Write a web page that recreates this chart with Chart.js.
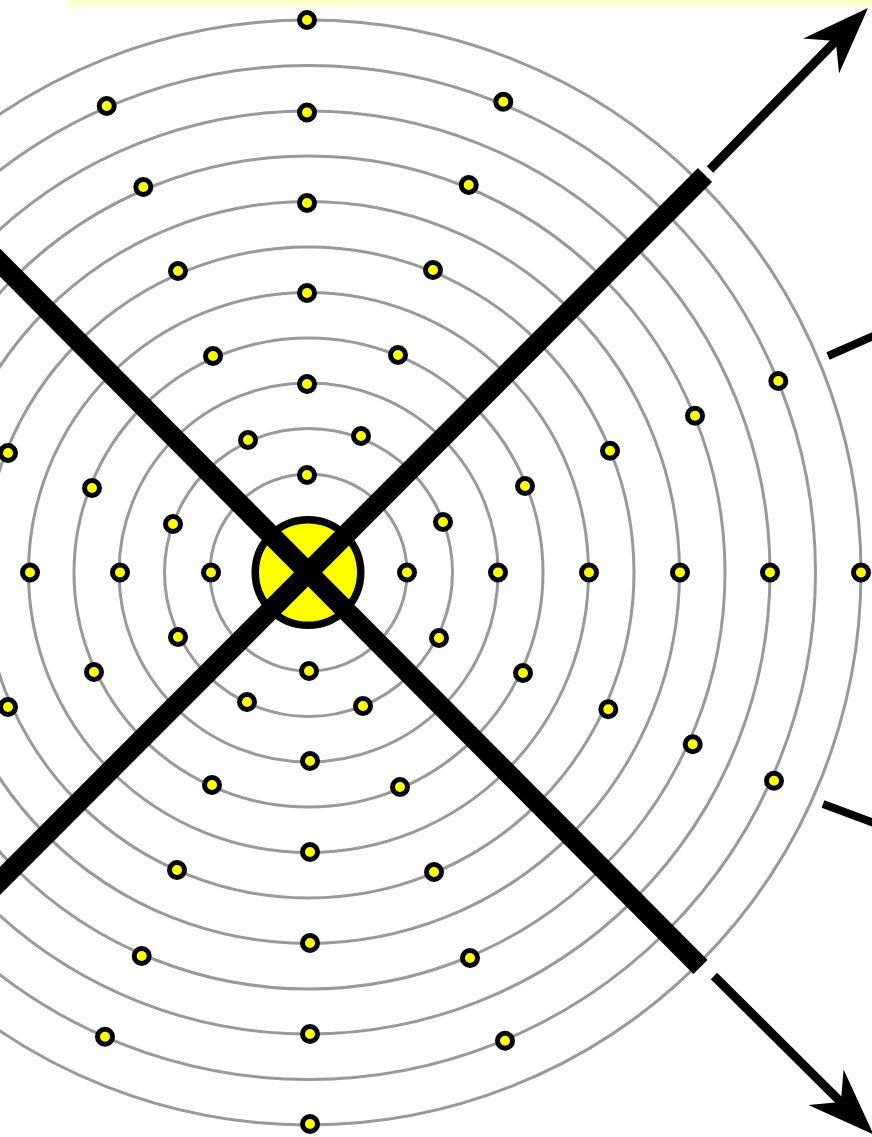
<!DOCTYPE html>
<html>
<head>
<meta charset="utf-8">
<script src="https://cdn.jsdelivr.net/npm/chart.js@4/dist/chart.umd.min.js"></script>
<style>
html,body{margin:0;padding:0;background:#ffffff;overflow:hidden}
canvas{display:block}
</style>
</head>
<body>
<canvas id="c" width="872" height="1137"></canvas>
<script>
// ---- data: offsets from the figure centre (x to the right, y upward) ----
const ringRadii = [98.5, 144, 189.5, 234.5, 280, 325.5, 371, 416.5, 461.5, 507, 552.5];

const dotX = [
  -1.5, -1.5, -1.5, -1.5, -1.5, -1.5,
  0.5, 1.5, 1.5, 1.5, 1.5, 1.5,
  98.5, 189.5, 280.5, 371.5, 461.5, 552.5,
  -97.5, -188.5, -278.5,
  -201.8, -165.2, -130.5, -95.5, -60.5,
  194.8, 160.2, 124.5, 89.5, 52.5,
  134.5, 216.5, 301.5, 386.5, 469.8,
  130.5, 214.5, 299.8, 384.2, 465.5,
  -300.5, -216.5, -135.5,
  -130.5, -214.5, -300.5,
  -61.5, -96.5, -131.5, -166.8, -203.5,
  54.5, 91.5, 125.5, 161.5, 196.5
];
const dotY = [
  552.5, 460, 369.5, 279.5, 188.5, 97.5,
  -98.5, -188.5, -279.5, -370.5, -461.5, -551.5,
  0, 0, 0, 0, 0, 0,
  0, 0, 0,
  466.5, 385.5, 301.5, 216.5, 132.5,
  470.8, 387.5, 302.5, 217.5, 136.5,
  50.5, 86.5, 121.8, 156.8, 191.5,
  -65.5, -100.5, -136.8, -171.8, -208.2,
  119.5, 84.5, 48.5,
  -64.5, -99.5, -134.5,
  -129.5, -212.5, -297.5, -383.5, -464.2,
  -133.5, -214.5, -299.5, -385.5, -468.2
];

const hubX = [-0.5];
const hubY = [0];

const beamStartX = [-420, -420];
const beamStartY = [422, -420];
const beamEndX = [392, 396.5];
const beamEndY = [-394.5, 397.5];

const arrowStartX = [401.5, 405.5];
const arrowStartY = [403, -403.5];
const arrowTipX = [559.5, 565];
const arrowTipY = [564.5, -562];

const dashStartX = [519.5, 514.5];
const dashStartY = [216.5, -231.5];
const dashEndX = [580, 580];
const dashEndY = [243, -256];

const bandX = [-240.5, 563.5];
const bandY = [566, 572.5];

// view window (data units)
const viewX = [-308.5, 563.5];
const viewY = [-564.5, 572.5];

// ---- styles ----
const HEAD_LEN = 67, HEAD_HALF = 25, HEAD_NOTCH = 46;

function pts(xs, ys) { return xs.map((v, i) => ({ x: v, y: ys[i] })); }

const datasets = [];

// thick beams (on top)
beamStartX.forEach((_, i) => {
  datasets.push({
    type: 'scatter', showLine: true, order: 0, clip: false,
    data: [{ x: beamStartX[i], y: beamStartY[i] }, { x: beamEndX[i], y: beamEndY[i] }],
    borderColor: '#000', borderWidth: 20, borderCapStyle: 'butt',
    pointRadius: 0, fill: false
  });
});

// hub
datasets.push({
  type: 'scatter', order: 1, clip: false, data: pts(hubX, hubY),
  pointRadius: 52.75, borderWidth: 7.5, backgroundColor: '#ffff00', borderColor: '#000'
});

// arrow shafts (ending at the notch of the head)
arrowStartX.forEach((_, i) => {
  const dx = arrowTipX[i] - arrowStartX[i], dy = arrowTipY[i] - arrowStartY[i];
  const L = Math.hypot(dx, dy);
  datasets.push({
    type: 'scatter', showLine: true, order: 2, arrow: true, clip: false,
    data: [{ x: arrowStartX[i], y: arrowStartY[i] },
           { x: arrowTipX[i] - dx / L * HEAD_NOTCH, y: arrowTipY[i] - dy / L * HEAD_NOTCH }],
    tip: { x: arrowTipX[i], y: arrowTipY[i] },
    borderColor: '#000', borderWidth: 9, borderCapStyle: 'butt', pointRadius: 0, fill: false
  });
});

// short dashes
dashStartX.forEach((_, i) => {
  datasets.push({
    type: 'scatter', showLine: true, order: 2, clip: false,
    data: [{ x: dashStartX[i], y: dashStartY[i] }, { x: dashEndX[i], y: dashEndY[i] }],
    borderColor: '#000', borderWidth: 8, borderCapStyle: 'butt', pointRadius: 0, fill: false
  });
});

// dots
datasets.push({
  type: 'scatter', order: 3, clip: false, data: pts(dotX, dotY),
  pointRadius: 7.5, borderWidth: 5, backgroundColor: '#ffff00', borderColor: '#000'
});

const figurePlugin = {
  id: 'figure',
  beforeDraw(chart) {
    const { ctx, scales: { x, y } } = chart;
    ctx.save();
    ctx.fillStyle = '#ffffff';
    ctx.fillRect(0, 0, chart.width, chart.height);
    const x0 = x.getPixelForValue(bandX[0]), x1 = x.getPixelForValue(bandX[1]);
    const y0 = y.getPixelForValue(bandY[1]), y1 = y.getPixelForValue(bandY[0]);
    ctx.fillStyle = '#ffffcc';
    ctx.fillRect(x0, y0, x1 - x0, y1 - y0);
    ctx.restore();
  },
  beforeDatasetsDraw(chart) {
    const { ctx, scales: { x, y } } = chart;
    const cx = x.getPixelForValue(0), cy = y.getPixelForValue(0);
    ctx.save();
    ctx.strokeStyle = '#999999';
    ctx.lineWidth = 3;
    ringRadii.forEach(r => {
      const rp = x.getPixelForValue(r) - cx;
      ctx.beginPath();
      ctx.arc(cx, cy, rp, 0, Math.PI * 2);
      ctx.stroke();
    });
    ctx.restore();
  },
  afterDatasetsDraw(chart) {
    const { ctx, scales: { x, y } } = chart;
    ctx.save();
    ctx.fillStyle = '#000';
    chart.data.datasets.forEach(ds => {
      if (!ds.arrow) return;
      const sx = x.getPixelForValue(ds.data[0].x), sy = y.getPixelForValue(ds.data[0].y);
      const tx = x.getPixelForValue(ds.tip.x), ty = y.getPixelForValue(ds.tip.y);
      const L = Math.hypot(tx - sx, ty - sy);
      const ux = (tx - sx) / L, uy = (ty - sy) / L;
      const nx = -uy, ny = ux;
      ctx.beginPath();
      ctx.moveTo(tx, ty);
      ctx.lineTo(tx - ux * HEAD_LEN + nx * HEAD_HALF, ty - uy * HEAD_LEN + ny * HEAD_HALF);
      ctx.lineTo(tx - ux * HEAD_NOTCH, ty - uy * HEAD_NOTCH);
      ctx.lineTo(tx - ux * HEAD_LEN - nx * HEAD_HALF, ty - uy * HEAD_LEN - ny * HEAD_HALF);
      ctx.closePath();
      ctx.fill();
    });
    ctx.restore();
  }
};

new Chart(document.getElementById('c'), {
  type: 'scatter',
  data: { datasets },
  options: {
    responsive: false,
    animation: false,
    devicePixelRatio: 1,
    events: [],
    layout: { padding: 0, autoPadding: false },
    plugins: { legend: { display: false }, tooltip: { enabled: false }, title: { display: false } },
    scales: {
      x: { type: 'linear', min: viewX[0], max: viewX[1], display: false },
      y: { type: 'linear', min: viewY[0], max: viewY[1], display: false }
    }
  },
  plugins: [figurePlugin]
});
</script>
</body>
</html>
